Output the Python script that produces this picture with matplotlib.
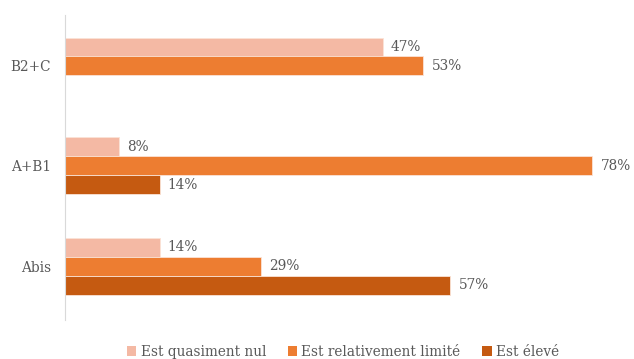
import numpy as np
import matplotlib.pyplot as plt
from matplotlib.patches import Patch

categories = ["Abis", "A+B1", "B2+C"]
series_names = ["Est quasiment nul", "Est relativement limité", "Est élevé"]
quasiment_nul = [14, 8, 47]
relativement_limite = [29, 78, 53]
eleve = [57, 14, 0]

colors = ["#F4B9A4", "#ED7D31", "#C55A11"]
text_grey = "#595959"

plt.rcParams['font.family'] = ['DejaVu Serif']

fig = plt.figure(figsize=(6.34, 3.59), dpi=100)
ax = fig.add_axes([65/634, 1 - 320/359, 541/634, 305/359])

y = np.arange(len(categories))
h = 0.19
offsets = [h, 0, -h]
for vals, off, col in zip([quasiment_nul, relativement_limite, eleve], offsets, colors):
    ax.barh(y + off, vals, height=h, color=col, edgecolor="#FBE3D6", linewidth=0.6)
    for yi, v in zip(y, vals):
        if v > 0:
            ax.text(v + 1.2, yi + off, f"{v}%", va="center", ha="left",
                    fontsize=9.8, color=text_grey)

ax.set_xlim(0, 80)
ax.set_ylim(-0.54, 2.51)
ax.set_yticks(y)
ax.set_yticklabels(categories, fontsize=9.8, color=text_grey)
ax.tick_params(axis="y", length=0, pad=10)
ax.set_xticks([])
for s in ["top", "right", "bottom"]:
    ax.spines[s].set_visible(False)
ax.spines["left"].set_color("#D9D9D9")

handles = [Patch(facecolor=c, edgecolor="none") for c in colors]
fig.legend(handles, series_names, loc="center", bbox_to_anchor=(343/634, 1 - 352/359),
           ncol=3, frameon=False, fontsize=9.8, handlelength=0.7, handleheight=0.7,
           handletextpad=0.3, columnspacing=1.6, labelcolor=text_grey)

fig.savefig("out.png", dpi=100)
